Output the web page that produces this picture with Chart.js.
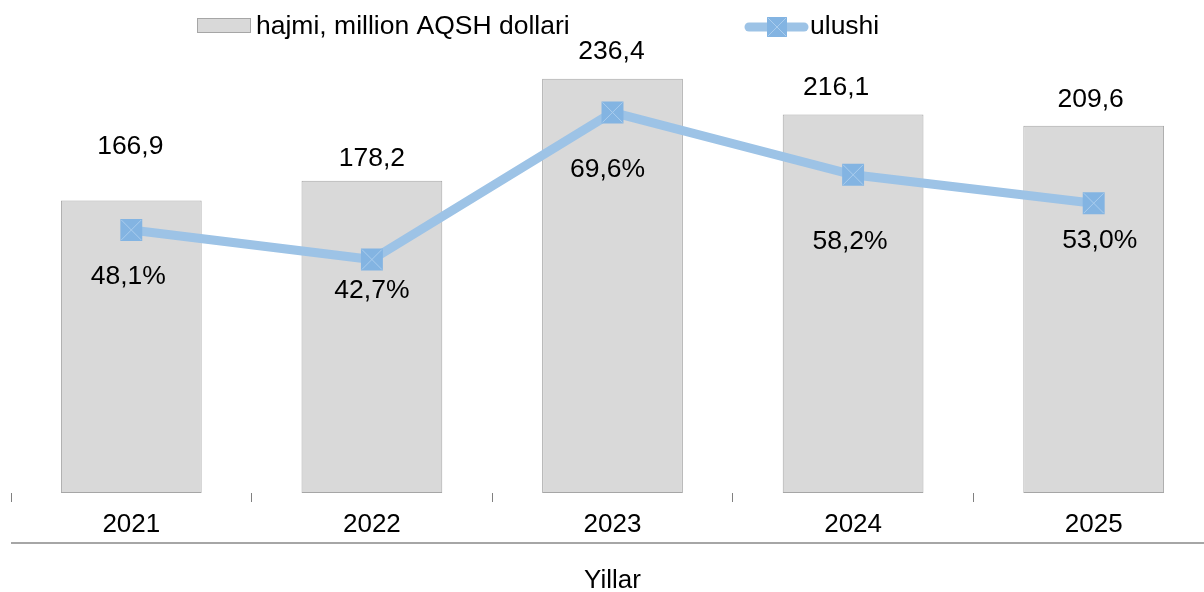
<!DOCTYPE html>
<html>
<head>
<meta charset="utf-8">
<script src="https://cdn.jsdelivr.net/npm/chart.js@4.4.0/dist/chart.umd.min.js"></script>
<style>
  body { margin: 0; background: #fff; overflow: hidden; }
  #wrap { width: 1216px; height: 592px; overflow: hidden; }
  #grafico { width: 1216px; height: 592px; }
</style>
</head>
<body>
<div id="wrap">
  <canvas id="grafico" width="1216" height="592"></canvas>
</div>
<script>
const yillar = ["2021", "2022", "2023", "2024", "2025"];
const hajmi = [166.9, 178.2, 236.4, 216.1, 209.6];
const ulushi = [48.1, 42.7, 69.6, 58.2, 53.0];

// qo'lda surilgan yorliqlar (Excel dagi kabi)
const hajmiSurishX = [-1, 0, -1, -17, -3];
const hajmiSurishY = [-54, -22, -27, -27, -26];
const ulushiSurishX = [-3, 0, -5, -3, 6];
const ulushiSurishY = [47, 31, 57, 67, 38];

const shrift = "'Liberation Sans', Arial, sans-serif";

function vergul(v) {
    return v.toFixed(1).replace(".", ",");
}

const yorliqlar = {
    id: "yorliqlar",
    afterDatasetsDraw(chart) {
        const ctx = chart.ctx;
        ctx.save();

        // markerlardagi X belgisi
        const lineMeta = chart.getDatasetMeta(1);
        ctx.strokeStyle = "#aacdee";
        ctx.lineWidth = 1;
        lineMeta.data.forEach(p => {
            const s = 10;
            ctx.beginPath();
            ctx.moveTo(p.x - s, p.y - s);
            ctx.lineTo(p.x + s, p.y + s);
            ctx.moveTo(p.x + s, p.y - s);
            ctx.lineTo(p.x - s, p.y + s);
            ctx.stroke();
        });

        ctx.fillStyle = "#000";
        ctx.font = "26.5px " + shrift;
        ctx.textAlign = "center";
        ctx.textBaseline = "middle";

        const barMeta = chart.getDatasetMeta(0);
        barMeta.data.forEach((b, i) => {
            ctx.fillText(vergul(hajmi[i]), b.x + hajmiSurishX[i], b.y + hajmiSurishY[i]);
        });
        lineMeta.data.forEach((p, i) => {
            ctx.fillText(vergul(ulushi[i]) + "%", p.x + ulushiSurishX[i], p.y + ulushiSurishY[i]);
        });

        // pastdagi chiziq
        ctx.strokeStyle = "#a6a6a6";
        ctx.lineWidth = 2;
        ctx.beginPath();
        ctx.moveTo(chart.chartArea.left, 543);
        ctx.lineTo(chart.width, 543);
        ctx.stroke();

        // legenda
        const ds = chart.data.datasets;
        ctx.textAlign = "left";
        ctx.fillStyle = "#d9d9d9";
        ctx.fillRect(197, 18, 53, 14);
        ctx.strokeStyle = "#a6a6a6";
        ctx.lineWidth = 1;
        ctx.strokeRect(197.5, 18.5, 53, 14);
        ctx.fillStyle = "#000";
        ctx.fillText(ds[0].label, 256, 27);

        ctx.strokeStyle = "#9dc3e6";
        ctx.lineWidth = 9;
        ctx.lineCap = "round";
        ctx.beginPath();
        ctx.moveTo(749, 27);
        ctx.lineTo(804, 27);
        ctx.stroke();
        ctx.fillStyle = "#83b4e2";
        ctx.fillRect(767, 17, 20, 20);
        ctx.strokeStyle = "#aacdee";
        ctx.lineWidth = 1;
        ctx.beginPath();
        ctx.moveTo(768, 18); ctx.lineTo(786, 36);
        ctx.moveTo(786, 18); ctx.lineTo(768, 36);
        ctx.stroke();
        ctx.fillStyle = "#000";
        ctx.fillText(ds[1].label, 810, 27);

        ctx.restore();
    }
};

const graf = document.getElementById("grafico");

new Chart(graf, {
    type: "bar",
    data: {
        labels: yillar,
        datasets: [
            {
                label: "hajmi, million AQSH dollari",
                data: hajmi,
                backgroundColor: "#d9d9d9",
                borderColor: "#a6a6a6",
                borderWidth: 1,
                borderSkipped: false,
                barPercentage: 0.585,
                categoryPercentage: 1,
                yAxisID: "y",
                order: 1
            },
            {
                type: "line",
                label: "ulushi",
                data: ulushi,
                borderColor: "#9dc3e6",
                borderWidth: 9,
                pointStyle: "rect",
                pointRadius: 15.5,
                pointBackgroundColor: "#83b4e2",
                pointBorderWidth: 0,
                pointBorderColor: "#83b4e2",
                tension: 0,
                yAxisID: "y1",
                order: 0
            }
        ]
    },
    options: {
        responsive: false,
        animation: false,
        layout: {
            autoPadding: false,
            padding: { top: 55, left: 11, right: 2, bottom: 0 }
        },
        plugins: {
            legend: { display: false },
            tooltip: { enabled: false }
        },
        scales: {
            x: {
                offset: true,
                border: { display: false },
                grid: {
                    offset: true,
                    drawOnChartArea: false,
                    drawTicks: true,
                    tickLength: 9,
                    color: "#808080"
                },
                ticks: {
                    color: "#000",
                    padding: 7,
                    font: { family: shrift, size: 26 }
                },
                title: {
                    display: true,
                    text: "Yillar",
                    color: "#000",
                    padding: { top: 0, bottom: -4 },
                    font: { family: shrift, size: 26 }
                },
                afterFit(scale) {
                    scale.height = 99;
                }
            },
            y: {
                display: false,
                min: 0,
                max: 250
            },
            y1: {
                display: false,
                position: "right",
                min: 0,
                max: 80.1
            }
        }
    },
    plugins: [yorliqlar]
});
</script>
</body>
</html>
